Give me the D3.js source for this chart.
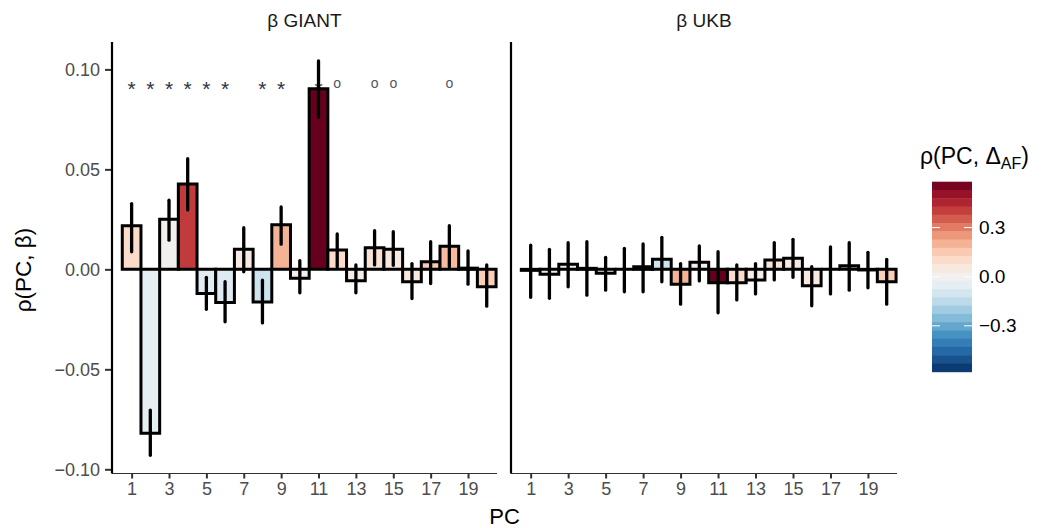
<!DOCTYPE html>
<html>
<head>
<meta charset="utf-8">
<script src="https://cdn.jsdelivr.net/npm/d3@7"></script>
<style>
  body { margin: 0; background: #fff; }
  svg { display: block; font-family: "Liberation Sans", Arial, sans-serif; }
</style>
</head>
<body>
<div id="chart"></div>
<script>
// principal components
const pcs = [1, 2, 3, 4, 5, 6, 7, 8, 9, 10, 11, 12, 13, 14, 15, 16, 17, 18, 19, 20];

// rho(PC, beta) for GIANT with interval ends
const giantRho = [0.0218, -0.0820, 0.0251, 0.0427, -0.0121, -0.0166, 0.0101, -0.0163, 0.0223, -0.0045,
                  0.0903, 0.0097, -0.0057, 0.0108, 0.0101, -0.0062, 0.0038, 0.0116, 0.0006, -0.0087];
const giantHi  = [0.0329, -0.0704, 0.0346, 0.0553, -0.0040, -0.0062, 0.0208, -0.0054, 0.0312, 0.0043,
                  0.1042, 0.0177, 0.0022, 0.0193, 0.0188, 0.0029, 0.0138, 0.0218, 0.0092, 0.0022];
const giantLo  = [0.0088, -0.0930, 0.0146, 0.0297, -0.0200, -0.0262, -0.0012, -0.0268, 0.0126, -0.0117,
                  0.0760, 0.0013, -0.0117, 0.0022, 0.0020, -0.0146, -0.0071, 0.0013, -0.0074, -0.0184];

// rho(PC, beta) for UKB with interval ends
const ukbRho = [-0.0005, -0.0025, 0.0025, 0.0005, -0.0020, 0.0000, 0.0013, 0.0050, -0.0075, 0.0035,
                -0.0067, -0.0067, -0.0053, 0.0047, 0.0055, -0.0082, 0.0000, 0.0018, -0.0003, -0.0062];
const ukbHi  = [0.0121, 0.0100, 0.0133, 0.0138, 0.0060, 0.0105, 0.0127, 0.0160, 0.0029, 0.0117,
                0.0088, 0.0022, 0.0029, 0.0133, 0.0150, 0.0013, 0.0112, 0.0133, 0.0085, 0.0050];
const ukbLo  = [-0.0140, -0.0145, -0.0087, -0.0129, -0.0104, -0.0112, -0.0112, -0.0062, -0.0174, -0.0058,
                -0.0217, -0.0153, -0.0123, -0.0053, -0.0040, -0.0182, -0.0123, -0.0104, -0.0092, -0.0174];

// rho(PC, delta AF), the fill of each PC
const afRho = [0.10, -0.05, 0.005, 0.41, -0.065, -0.07, 0.045, -0.115, 0.20, 0.02,
               0.58, 0.10, 0.03, 0.08, 0.05, 0.05, 0.15, 0.185, 0.01, 0.14];

// significance marks above the GIANT bars
const giantMarks = ["*", "*", "*", "*", "*", "*", "", "*", "*", "", "*", "o", "", "o", "o", "", "", "o", "", ""];
const ukbMarks = pcs.map(() => "");

const panelNames = ["\u03b2 GIANT", "\u03b2 UKB"];
const xTicks = [1, 3, 5, 7, 9, 11, 13, 15, 17, 19];
const yTicks = [-0.10, -0.05, 0.00, 0.05, 0.10];
const legendTicks = [-0.3, 0.0, 0.3];

const width = 1050;
const height = 528;
const plotTop = 42, plotBottom = 473.5;
const panels = [
    {x0: 112, x1: 497, name: panelNames[0], rho: giantRho, lo: giantLo, hi: giantHi, marks: giantMarks},
    {x0: 511, x1: 897, name: panelNames[1], rho: ukbRho, lo: ukbLo, hi: ukbHi, marks: ukbMarks}
];

const svg = d3.select("#chart").append("svg")
    .attr("width", width).attr("height", height);

const y = d3.scaleLinear().domain([-0.1021, 0.1137]).range([plotBottom, plotTop]);
const fillLimit = 0.58;
const color = d3.scaleDiverging([-fillLimit, 0, fillLimit], t => d3.interpolateRdBu(1 - t));

const tickColor = "#4d4d4d";
const tickFont = 18;

panels.forEach((p, pi) => {
    const x = d3.scaleLinear().domain([-0.05, 20.55]).range([p.x0, p.x1]);
    const g = svg.append("g");

    // strip label
    g.append("text")
        .attr("x", (p.x0 + p.x1) / 2).attr("y", 27)
        .attr("text-anchor", "middle")
        .attr("font-size", 19).attr("fill", "#1a1a1a")
        .text(p.name);

    // marks (drawn under the bars)
    g.selectAll("text.mark").data(pcs.filter((d, i) => p.marks[i] !== ""))
        .join("text")
        .attr("class", "mark")
        .attr("x", d => x(d))
        .attr("y", d => p.marks[d - 1] === "*" ? 96 : 88)
        .attr("text-anchor", "middle")
        .attr("font-size", d => p.marks[d - 1] === "*" ? 21 : 14)
        .attr("fill", d => p.marks[d - 1] === "*" ? "#2b3346" : "#4f5666")
        .text(d => p.marks[d - 1]);

    // bars
    g.selectAll("path.bar").data(pcs)
        .join("path")
        .attr("class", "bar")
        .attr("d", (d, i) => {
            const xa = x(d - 0.5), xb = x(d + 0.5);
            const ya = y(0), yb = y(p.rho[i]);
            return `M${xa},${ya}H${xb}V${yb}H${xa}Z`;
        })
        .attr("fill", (d, i) => color(afRho[i]))
        .attr("stroke", "#000")
        .attr("stroke-width", 3)
        .attr("stroke-linejoin", "miter");

    // intervals
    g.selectAll("line.err").data(pcs)
        .join("line")
        .attr("class", "err")
        .attr("x1", d => x(d)).attr("x2", d => x(d))
        .attr("y1", (d, i) => y(p.lo[i])).attr("y2", (d, i) => y(p.hi[i]))
        .attr("stroke", "#000").attr("stroke-width", 3.3)
        .attr("stroke-linecap", "round");

    // x axis
    const xAxis = g.append("g")
        .attr("transform", `translate(0,${plotBottom})`)
        .call(d3.axisBottom(x).tickValues(xTicks).tickSize(5).tickPadding(4).tickFormat(d3.format("d")));
    xAxis.select(".domain").remove();
    xAxis.selectAll(".tick line").attr("stroke", "#333").attr("stroke-width", 2);
    xAxis.selectAll(".tick text").attr("font-size", tickFont).attr("fill", tickColor)
        .attr("font-family", "Liberation Sans, Arial, sans-serif");
    g.append("line")
        .attr("x1", p.x0).attr("x2", p.x1).attr("y1", plotBottom).attr("y2", plotBottom)
        .attr("stroke", "#333").attr("stroke-width", 1);

    // y axis (ticks on the first panel only)
    if (pi === 0) {
        const yAxis = g.append("g")
            .attr("transform", `translate(${p.x0},0)`)
            .call(d3.axisLeft(y).tickValues(yTicks).tickSize(7).tickPadding(5).tickFormat(d3.format(".2f")));
        yAxis.select(".domain").remove();
        yAxis.selectAll(".tick line").attr("stroke", "#333").attr("stroke-width", 2);
        yAxis.selectAll(".tick text").attr("font-size", tickFont).attr("fill", tickColor)
            .attr("font-family", "Liberation Sans, Arial, sans-serif");
    }
    g.append("line")
        .attr("x1", p.x0).attr("x2", p.x0).attr("y1", plotTop).attr("y2", plotBottom)
        .attr("stroke", "#000").attr("stroke-width", 2.2);
});

// axis titles
svg.append("text")
    .attr("x", (panels[0].x0 + panels[1].x1) / 2).attr("y", 524)
    .attr("text-anchor", "middle").attr("font-size", 22)
    .text("PC");

svg.append("text")
    .attr("transform", "translate(31,270) rotate(-90)")
    .attr("text-anchor", "middle").attr("font-size", 22.5)
    .text("\u03c1(PC, \u03b2)");

// colour bar legend
const legX = 932, legW = 40, legTop = 181.7, legBottom = 371.7;
const ly = d3.scaleLinear().domain([-fillLimit, fillLimit]).range([legBottom, legTop]);
const nBands = 23;
const bandH = (legBottom - legTop) / nBands;
const bands = d3.range(nBands);
const legend = svg.append("g");

legend.selectAll("rect").data(bands)
    .join("rect")
    .attr("x", legX).attr("width", legW)
    .attr("y", i => legTop + i * bandH)
    .attr("height", bandH + 0.5)
    .attr("fill", i => color(ly.invert(legTop + (i + 0.5) * bandH)));

legendTicks.forEach(v => {
    legend.append("line").attr("x1", legX).attr("x2", legX + 8)
        .attr("y1", ly(v)).attr("y2", ly(v)).attr("stroke", "#fff").attr("stroke-width", 1);
    legend.append("line").attr("x1", legX + legW - 8).attr("x2", legX + legW)
        .attr("y1", ly(v)).attr("y2", ly(v)).attr("stroke", "#fff").attr("stroke-width", 1);
    legend.append("text").attr("x", legX + legW + 7).attr("y", ly(v) + 6.5)
        .attr("font-size", 19).attr("fill", "#000")
        .text(d3.format(".1f")(v));
});

const title = legend.append("text")
    .attr("x", 920).attr("y", 164)
    .attr("font-size", 23);
title.append("tspan").text("\u03c1(PC, \u0394");
title.append("tspan").attr("font-size", 16).attr("dy", 5).text("AF");
title.append("tspan").attr("dy", -5).text(")");
</script>
</body>
</html>
